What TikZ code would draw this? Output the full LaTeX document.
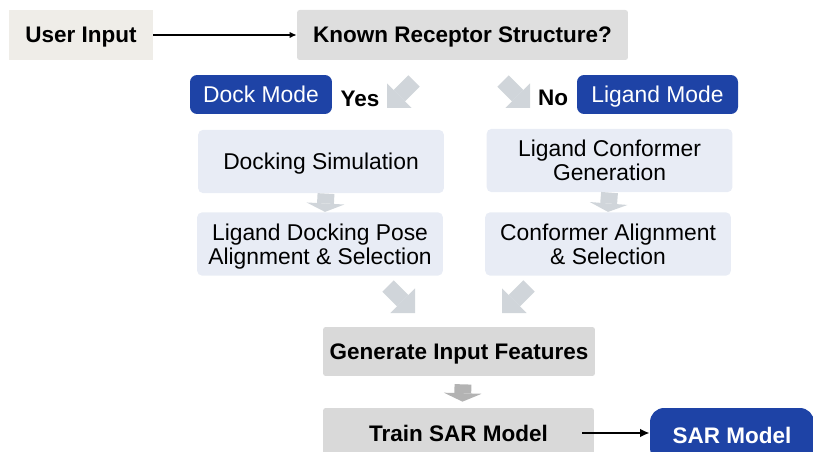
\documentclass[tikz,border=0pt]{standalone}
\usepackage{fontspec}
\setmainfont{Liberation Sans}
\usepackage{xcolor}
\usepackage{tikz}
\usetikzlibrary{arrows.meta}

\definecolor{modeblue}{HTML}{1E43A6}
\definecolor{stepfill}{HTML}{E8ECF5}
\definecolor{askfill}{HTML}{DEDEDE}
\definecolor{featfill}{HTML}{D9D9D9}
\definecolor{userfill}{HTML}{EFEDE8}
\definecolor{flowgray}{HTML}{D0D5DA}
\definecolor{flowdark}{HTML}{B3B3B3}

\begin{document}
\begin{tikzpicture}[x=0.02cm,y=-0.02cm,
  every node/.style={inner sep=0pt,align=center,text depth=0pt},
  plain/.style={font=\fontsize{13}{13.6}\selectfont},
  heavy/.style={font=\fontsize{12.8}{13.6}\selectfont\bfseries},
  stepbox/.style={plain,fill=stepfill,rounded corners=3pt,minimum width=4.92cm,minimum height=1.27cm},
  graybox/.style={heavy,fill=featfill,rounded corners=1.5pt,minimum height=0.98cm},
  modebox/.style={fill=modeblue,text=white,rounded corners=4pt,minimum height=0.78cm,font=\fontsize{13}{13.6}\selectfont},
  bigflow/.style={draw=flowgray,line width=9.1pt,-{Triangle[width=19.8pt 0 0,length=9.9pt 0 0,line width=0pt]}},
  smallflow/.style={draw=flowgray,line width=9.6pt,-{Triangle[width=21.5pt 0 0,length=4.8pt 0 0,line width=0pt]}},
  link/.style={draw=black,line width=0.75pt,-{Latex[length=4pt,width=3.6pt]}}]

  \useasboundingbox (0,0) rectangle (813,452);

  % Top
  \node[heavy,fill=userfill,minimum width=2.88cm,minimum height=1cm] (user) at (81,35) {User Input};
  \node[graybox,fill=askfill,minimum width=6.62cm,minimum height=1cm] (known) at (462.5,35) {Known Receptor Structure?};
  \draw[link] (user) -- (known);

  % Modes
  \node[modebox,minimum width=2.84cm] (dock) at (261,94.5) {Dock Mode};
  \node[heavy,anchor=base] (yes) at (360,106.5) {Yes};
  \node[heavy,anchor=base] (no) at (553,106) {No};
  \node[modebox,minimum width=3.22cm] (ligmode) at (657.5,94.5) {Ligand Mode};
  \coordinate (yesfrom) at (414,81);
  \coordinate (yesto) at (387,108);
  \coordinate (nofrom) at (503,81);
  \coordinate (noto) at (530,108);
  \draw[bigflow] (yesfrom) -- (yesto);
  \draw[bigflow] (nofrom) -- (noto);

  % Steps
  \node[stepbox] (sim) at (321,161.5) {Docking Simulation};
  \node[stepbox] (pose) at (320,244) {Ligand Docking Pose\\Alignment \& Selection};
  \node[stepbox] (confgen) at (609.5,160.5) {Ligand Conformer\\Generation};
  \node[stepbox] (confsel) at (608,244) {Conformer Alignment\\\& Selection};
  \draw[smallflow] ([xshift=0.1cm]sim.south) -- ([xshift=0.1cm]pose.north);
  \draw[smallflow] (confgen.south) -- (confsel.north);

  % Merge
  \coordinate (posefrom) at (388,286);
  \coordinate (poseto) at (415,313);
  \coordinate (selfrom) at (529,286);
  \coordinate (selto) at (502,313);
  \draw[bigflow] (posefrom) -- (poseto);
  \draw[bigflow] (selfrom) -- (selto);

  % Bottom
  \node[graybox,minimum width=5.44cm] (feat) at (459,351.5) {Generate Input Features};
  \node[graybox,minimum width=5.42cm,minimum height=1cm] (train) at (458.5,433) {Train SAR Model};
  \draw[smallflow,draw=flowdark] ([shift={(4,8)}]feat.south) -- ([shift={(4,-6)}]train.north);
  \node[modebox,font=\fontsize{12.8}{13.6}\selectfont\bfseries,rounded corners=8pt,minimum width=3.28cm,minimum height=1.08cm] (sar) at (732,435) {SAR Model};
  \coordinate (trainout) at (582,433);
  \draw[link,line width=1.4pt,-{Latex[length=5.5pt,width=5pt]}] (trainout) -- (trainout -| sar.west);
\end{tikzpicture}
\end{document}
